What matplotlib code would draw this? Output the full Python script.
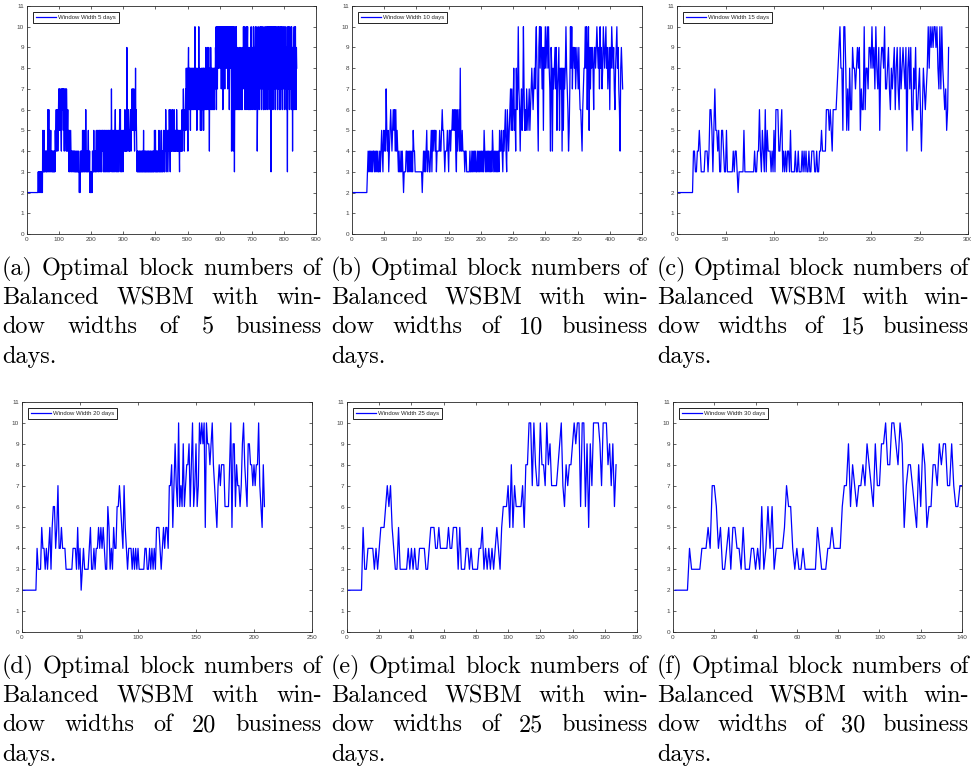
import matplotlib
matplotlib.use('Agg')
import matplotlib.pyplot as plt
import numpy as np

# ---------------- data ----------------
win5 = [
    2,2,2,2,2,2,2,2,2,2,2,2,2,2,2,2,2,2,2,2,
    2,2,2,2,2,2,2,2,2,2,2,2,2,2,3,2,3,3,2,3,
    2,3,3,2,3,2,3,2,5,3,4,3,5,3,4,3,4,4,3,4,
    3,4,3,4,6,3,4,6,3,5,4,3,4,5,3,4,4,3,4,3,
    4,3,4,3,3,4,3,5,4,5,6,4,6,5,6,4,5,6,7,5,
    7,6,5,6,7,5,4,7,6,7,6,7,5,7,6,4,7,5,6,7,
    5,4,7,6,4,5,6,4,5,4,3,5,4,3,4,5,4,3,4,4,
    3,4,4,4,3,4,4,3,4,3,3,4,3,3,4,3,3,4,3,3,
    4,3,2,3,2,3,4,3,4,3,4,3,5,3,4,5,3,4,3,5,
    4,3,6,4,3,4,3,4,3,4,5,3,4,3,4,2,3,2,2,3,
    2,3,2,4,3,4,3,5,3,4,4,3,4,3,4,5,3,4,5,4,
    3,5,4,3,5,4,5,3,4,5,4,3,5,4,5,4,5,3,4,5,
    3,5,4,3,5,4,3,5,4,5,3,4,5,3,5,4,3,5,4,5,
    4,3,7,4,5,3,4,5,3,4,5,4,3,5,6,4,3,5,4,3,
    5,4,3,4,5,3,4,5,6,4,6,3,5,4,3,4,5,4,3,5,
    4,5,4,5,6,4,5,4,5,4,9,5,6,4,5,6,5,4,5,4,
    5,6,5,4,6,5,7,5,6,7,5,6,7,5,4,6,5,8,5,6,
    5,4,3,4,3,4,3,3,4,3,4,3,3,4,3,4,3,3,4,3,
    4,3,5,3,4,3,3,4,3,4,3,3,4,3,4,3,3,4,3,4,
    3,3,4,3,4,3,3,4,3,3,4,3,4,3,4,3,5,4,3,5,
    3,4,3,4,3,4,3,4,3,4,5,3,4,3,4,3,4,5,3,4,
    3,4,3,4,5,4,3,4,3,5,4,6,5,4,3,4,5,4,3,4,
    5,4,6,5,4,3,5,6,4,5,4,5,6,4,5,4,5,6,4,5,
    4,5,4,5,4,6,5,4,5,4,5,4,5,4,3,5,4,5,4,5,
    4,5,6,4,6,5,7,5,6,4,6,5,6,7,5,8,6,7,8,6,
    4,8,9,7,8,6,8,7,5,8,6,7,8,6,7,8,6,7,8,6,
    7,8,10,6,8,7,6,8,5,7,6,8,7,6,10,7,6,8,7,5,
    7,6,8,5,7,8,6,7,8,5,8,6,7,8,6,7,9,8,6,7,
    8,9,7,6,8,9,7,4,8,6,7,9,8,6,7,8,6,7,8,7,
    6,8,7,6,8,7,9,8,10,6,10,8,7,10,8,9,10,8,10,9,
    10,8,9,10,7,10,9,8,10,6,9,10,8,10,9,7,10,8,10,9,
    8,10,9,10,7,10,8,9,10,6,9,10,8,10,9,10,4,8,10,9,
    10,4,9,10,8,3,7,10,6,9,7,10,6,8,7,9,6,8,7,6,
    9,7,6,8,7,9,6,7,8,6,9,8,7,10,8,9,7,10,6,8,
    9,7,10,8,6,9,10,7,8,6,9,8,6,7,9,6,8,10,7,9,
    6,8,9,7,10,8,6,9,7,8,10,6,8,9,7,10,4,6,9,7,
    8,10,6,9,8,7,10,9,8,6,10,7,9,8,10,6,9,6,8,7,
    10,8,9,6,10,9,7,8,10,6,9,10,8,7,10,9,6,8,10,3,
    10,7,9,8,10,6,9,10,8,7,10,9,6,10,8,9,7,10,8,6,
    9,10,7,8,10,6,9,8,10,6,8,9,10,7,9,6,10,8,9,7,
    10,8,6,9,7,10,8,9,6,8,3,10,9,7,10,8,6,9,10,8,
    7,9,6,10,8,9,4,9,6,8,9,10,8,6,9,10,7,6,9,8,
]

win10 = [
    2,2,2,2,2,2,2,2,2,2,2,2,2,2,2,2,2,2,2,2,
    2,2,2,3,4,3,4,3,4,3,4,3,4,4,3,4,3,4,3,4,
    3,3,4,3,4,5,4,3,5,4,5,4,7,5,4,5,3,4,5,6,
    5,4,5,6,5,6,4,6,4,5,4,3,4,3,3,4,3,4,3,2,
    3,3,3,4,4,3,4,3,4,3,4,3,4,3,5,4,4,3,3,3,
    3,3,3,3,3,3,3,3,2,3,4,3,4,3,4,5,3,4,4,3,
    3,4,5,3,5,4,5,5,4,5,3,4,4,4,4,5,4,4,5,6,
    5,5,4,3,4,4,4,5,4,3,5,5,4,5,5,6,5,6,5,6,
    4,3,6,4,5,6,4,8,4,4,5,4,4,4,3,4,4,3,3,3,
    3,3,4,3,3,4,3,4,3,4,3,4,3,3,4,3,4,3,4,3,
    4,3,4,3,5,4,3,4,3,4,3,4,3,4,3,4,3,5,4,3,
    4,3,4,3,4,3,4,3,5,4,4,5,4,3,5,4,5,6,4,3,
    6,5,4,5,6,7,5,7,5,6,8,5,6,4,8,6,7,10,7,6,
    4,6,7,5,6,10,7,5,6,5,7,6,5,6,7,5,6,7,8,7,
    6,7,8,7,9,10,8,6,4,9,10,8,10,9,7,9,5,9,8,10,
    8,9,10,8,10,8,7,4,9,8,4,8,7,8,9,7,9,5,7,8,
    9,5,8,7,8,4,8,5,8,7,8,10,8,7,6,4,5,7,10,8,
    10,7,9,9,8,9,7,8,9,8,7,9,7,6,6,5,4,6,7,8,
    8,10,8,10,6,9,10,5,9,7,9,8,9,8,6,9,9,8,9,10,
    9,8,9,7,10,8,9,7,8,10,9,8,9,10,8,9,7,8,9,6,
    9,8,10,9,8,9,7,6,8,9,10,8,9,7,6,4,8,9,8,7,
]

win15 = [
    2,2,2,2,2,2,2,2,2,2,2,2,2,2,2,2,4,4,3,3,
    4,4,5,4,3,3,3,3,4,4,4,3,4,6,6,5,3,5,7,5,
    5,4,5,3,3,5,5,4,3,3,5,3,3,3,3,3,3,4,3,4,
    4,3,2,3,3,3,3,3,5,3,3,3,3,3,3,3,3,3,3,4,
    3,3,4,4,6,4,3,5,4,3,6,3,5,4,4,4,3,4,3,5,
    3,6,6,6,4,4,5,6,3,4,3,4,3,4,4,3,5,3,3,3,
    3,4,3,3,4,3,3,3,4,3,4,3,4,3,3,4,3,3,4,4,
    4,3,3,4,3,3,4,4,5,4,4,4,4,6,6,6,5,6,5,4,
    6,6,6,6,7,8,9,10,8,8,5,10,10,8,5,7,5,8,6,6,
    9,8,8,7,8,9,8,9,5,7,6,6,10,6,8,8,7,9,9,8,
    10,8,9,7,10,8,7,9,5,8,9,9,8,10,7,7,8,9,7,6,
    8,7,8,9,6,8,9,7,6,9,7,8,9,8,7,9,4,8,9,7,
    9,6,5,8,7,9,6,6,7,8,6,4,6,8,7,6,7,8,10,8,
    10,9,10,9,10,10,9,10,8,7,10,7,10,8,7,6,7,5,6,9,
]

win20 = [
    2,2,2,2,2,2,2,2,2,2,2,2,4,3,3,3,5,4,4,3,
    4,3,4,5,3,5,6,6,4,5,7,4,4,5,4,4,4,3,3,3,
    3,3,3,4,4,4,3,5,3,4,2,3,4,3,3,3,3,4,5,3,
    3,4,3,4,4,5,4,5,4,5,4,3,3,6,5,3,4,3,5,4,
    4,6,6,7,6,5,4,7,5,4,3,4,4,4,3,4,3,4,3,4,
    3,3,3,3,3,4,4,3,3,4,3,4,3,4,3,5,5,5,4,3,
    4,5,4,5,5,4,7,7,8,5,7,9,7,6,10,6,7,6,9,6,
    7,8,8,9,6,8,10,6,7,9,6,7,10,9,10,9,10,5,10,9,
    9,8,9,10,8,7,6,5,7,8,7,8,8,8,6,6,6,6,8,10,
    5,9,9,6,8,7,7,6,7,9,10,8,7,6,9,9,8,8,7,8,
    7,8,8,10,7,6,5,8,6,
]

win25 = [
    2,2,2,2,2,2,2,2,2,5,3,3,4,4,4,4,3,4,3,4,
    5,5,5,6,7,6,7,5,4,3,3,5,3,3,3,3,3,4,3,4,
    3,4,3,3,4,4,4,4,3,3,4,5,5,5,4,4,5,4,4,4,
    4,4,5,4,4,5,5,5,3,5,3,3,3,4,4,3,4,3,3,3,
    3,4,4,5,3,4,3,4,3,4,3,4,5,4,3,5,6,6,6,7,
    5,8,5,7,6,6,6,6,7,5,8,8,10,10,7,10,8,7,7,10,
    8,8,7,10,8,9,7,7,7,7,8,9,10,7,6,8,7,8,8,9,
    10,9,10,10,6,10,10,6,9,5,9,7,10,10,10,10,9,7,10,10,
    10,8,9,7,9,6,8,
]

win30 = [
    2,2,2,2,2,2,2,4,3,3,3,3,3,4,4,4,5,4,7,7,
    6,4,5,3,3,4,5,3,5,5,4,4,3,5,3,3,3,4,4,3,
    4,3,6,3,4,6,4,6,3,4,4,4,4,5,7,6,6,4,3,4,
    3,3,4,3,3,3,3,3,3,5,4,3,3,3,4,4,5,4,4,4,
    4,6,7,7,9,6,8,7,6,7,7,8,7,9,8,7,6,9,7,7,
    9,9,10,8,8,10,10,9,8,10,9,5,7,8,8,7,6,5,8,6,
    9,8,5,6,6,8,8,7,9,8,9,9,7,7,9,7,6,6,7,7,
]

windows = [5, 10, 15, 20, 25, 30]
series = [win5, win10, win15, win20, win25, win30]
letters = ['a', 'b', 'c', 'd', 'e', 'f']
x_limits = [900, 450, 300, 250, 180, 140]
x_steps = [100, 50, 50, 50, 20, 20]
y_ticks = list(range(0, 12))

# ---------------- layout ----------------
W, H = 971, 772
fig = plt.figure(figsize=(W / 100, H / 100), dpi=100)

# axes boxes in pixels: (left, right, top, bottom)
boxes = [
    (27, 316, 6, 234),
    (352, 642, 6, 234),
    (677, 968, 6, 234),
    (22, 312, 402, 632),
    (347, 637, 402, 632),
    (673, 962, 402, 632),
]
# caption columns in pixels: (left, right, first baseline)
cap_cols = [
    (2, 322, 275), (331, 648, 275), (657, 969, 275),
    (2, 322, 673), (331, 648, 673), (657, 969, 673),
]

AXC = '#262626'
TICK_FONT = 'Liberation Sans'

for i in range(6):
    l, r, t, b = boxes[i]
    ax = fig.add_axes([l / W, 1 - b / H, (r - l) / W, (b - t) / H])
    y = series[i]
    x = np.arange(1, len(y) + 1)
    ax.plot(x, y, color=(0, 0, 1), lw=0.9,
            label='Window Width %d days' % windows[i])
    ax.set_xlim(0, x_limits[i])
    ax.set_ylim(0, 11)
    ax.set_xticks(np.arange(0, x_limits[i] + 1, x_steps[i]))
    ax.set_yticks(y_ticks)
    for s in ax.spines.values():
        s.set_color(AXC)
        s.set_linewidth(0.6)
    ax.tick_params(direction='in', length=2.2, width=0.5, colors=AXC,
                   labelsize=4.6, top=True, right=True, pad=2)
    for lab in ax.get_xticklabels() + ax.get_yticklabels():
        lab.set_family(TICK_FONT)
        lab.set_color('#404040')
    leg = ax.legend(loc='upper left', fontsize=4.3, handlelength=3.4,
                    handletextpad=0.4, borderpad=0.45, borderaxespad=1.0,
                    fancybox=False, framealpha=1,
                    prop={'family': TICK_FONT, 'size': 4.3})
    leg.get_frame().set_edgecolor('black')
    leg.get_frame().set_linewidth(0.6)
    for txt in leg.get_texts():
        txt.set_color('#262626')

# ---------------- captions (justified like LaTeX) ----------------
CAP_FONT = 'cmr10'
renderer = fig.canvas.get_renderer()


def text_width(s, fs):
    t = fig.text(0, 0, s, fontsize=fs, family=CAP_FONT)
    w = t.get_window_extent(renderer).width
    t.remove()
    return w


ref_line = '(a) Optimal block numbers of'
fs_cap = 16.0
fs_cap = fs_cap * 316.0 / text_width(ref_line, fs_cap)
line_gap = 29.2

for i in range(6):
    x0, x1, yb0 = cap_cols[i]
    lines = ['(%s) Optimal block numbers of' % letters[i],
             'Balanced WSBM with win-',
             'dow widths of %d business' % windows[i],
             'days.']
    for k, line in enumerate(lines):
        yb = yb0 + k * line_gap
        if k == len(lines) - 1:
            fig.text(x0 / W, 1 - yb / H, line, fontsize=fs_cap,
                     family=CAP_FONT, ha='left', va='baseline')
            continue
        words = line.split(' ')
        widths = [text_width(w, fs_cap) for w in words]
        gap = (x1 - x0 - sum(widths)) / (len(words) - 1)
        xx = x0
        for w, wd in zip(words, widths):
            fig.text(xx / W, 1 - yb / H, w, fontsize=fs_cap,
                     family=CAP_FONT, ha='left', va='baseline')
            xx += wd + gap

fig.savefig('out.png', dpi=100)
